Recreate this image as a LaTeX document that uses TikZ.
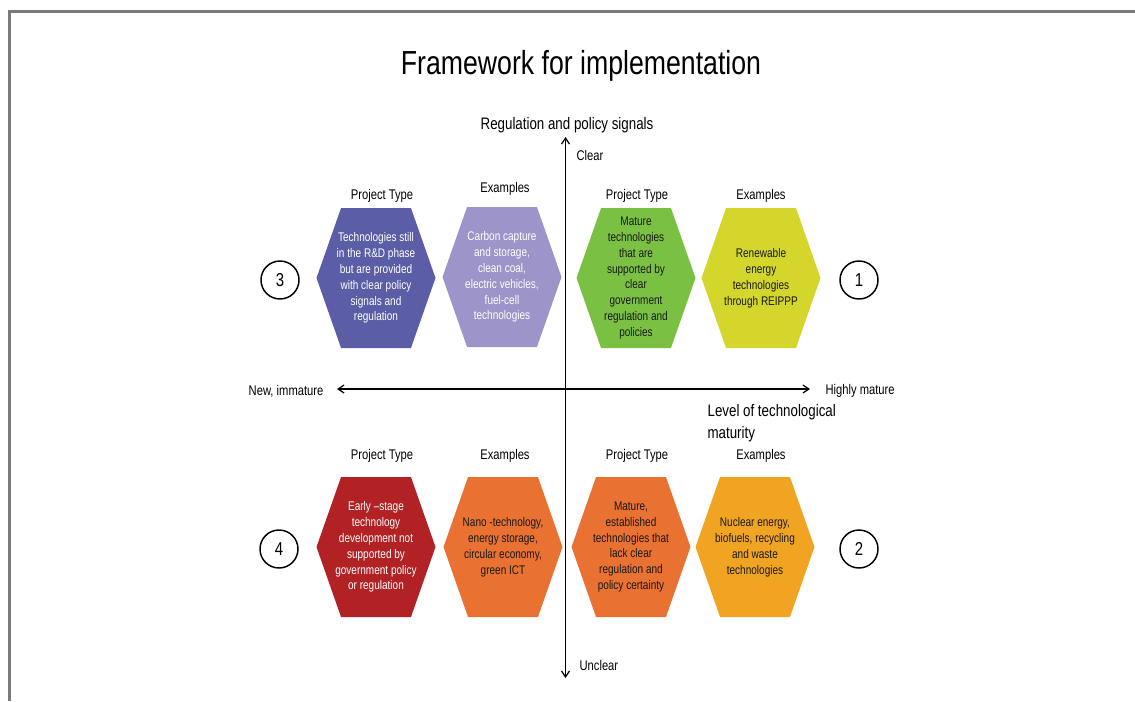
\documentclass[tikz,border=0pt]{standalone}
\usepackage{fontspec}
\setmainfont{Liberation Sans}[FakeStretch=0.8]
\usetikzlibrary{arrows.meta}

\definecolor{framegray}{HTML}{7A7A7A}
\definecolor{purpledark}{HTML}{5B5EA6}
\definecolor{purplelight}{HTML}{9D95CA}
\definecolor{greenmid}{HTML}{7AC143}
\definecolor{yellowgreen}{HTML}{D4D62B}
\definecolor{reddark}{HTML}{B22225}
\definecolor{orangemid}{HTML}{E97131}
\definecolor{goldmid}{HTML}{F0A422}

\newcommand{\hexfont}{\fontsize{9.4}{11.9}\selectfont}
\newcommand{\headfont}{\fontsize{10.5}{12.6}\selectfont}
\newcommand{\axisfont}{\fontsize{12.5}{16.5}\selectfont}

\tikzset{
    hexbox/.style={inner sep=0pt, minimum width=89.25pt, minimum height=105pt,
        align=center, font=\hexfont, text=black!90,
        path picture={\fill[#1] (path picture bounding box.west)
            -- ([xshift=18.4pt]path picture bounding box.north west)
            -- ([xshift=-18.4pt]path picture bounding box.north east)
            -- (path picture bounding box.east)
            -- ([xshift=-18.4pt]path picture bounding box.south east)
            -- ([xshift=18.4pt]path picture bounding box.south west) -- cycle;}},
    headlabel/.style={font=\headfont, inner sep=1pt},
    numcircle/.style={draw, circle, line width=1.1pt, minimum size=28.5pt,
        inner sep=0pt, font=\fontsize{14}{16}\selectfont},
    axisline/.style={line width=0.9pt, {Straight Barb[length=4.5pt,width=6pt]}-{Straight Barb[length=4.5pt,width=6pt]}}
}

\begin{document}
\begin{tikzpicture}[x=0.75pt,y=-0.75pt]
    \useasboundingbox (0,0) rectangle (1135,701);
    \draw[line width=2.25pt, framegray] (9.5,701) -- (9.5,11.5) -- (1135,11.5);

    \node[font=\fontsize{25}{30}\selectfont] (title) at (581,66) {Framework for implementation};

    \coordinate (top) at (565.5,137);
    \coordinate (bottom) at (565.5,678);
    \coordinate (left) at (337,389);
    \coordinate (right) at (810,389);
    \draw[axisline] (bottom) -- (top);
    \draw[axisline] (left) -- (right);

    \node[font=\axisfont] (regulation) at (567,125) {Regulation and policy signals};
    \node[headlabel, anchor=west] (clear) at (575,155) {Clear};
    \node[headlabel, anchor=west] (unclear) at (578,665) {Unclear};
    \node[headlabel, anchor=east] (newimm) at (325,391) {New, immature};
    \node[headlabel, anchor=west] (highmat) at (824,391) {Highly mature};
    \node[font=\axisfont, anchor=west, align=left, inner sep=1pt] (maturity) at (706,423) {Level of technological\\maturity};

    \node[headlabel] (q3typehead) at (382,196) {Project Type};
    \node[headlabel] (q3exhead) at (505,189) {Examples};
    \node[headlabel] (q1typehead) at (637,196) {Project Type};
    \node[headlabel] (q1exhead) at (761,196) {Examples};
    \node[headlabel] (q4typehead) at (382,456) {Project Type};
    \node[headlabel] (q4exhead) at (505,456) {Examples};
    \node[headlabel] (q2typehead) at (637,456) {Project Type};
    \node[headlabel] (q2exhead) at (761,456) {Examples};

    \node[hexbox=purpledark, text=white] (q3type) at (376,278)
        {Technologies still\\in the R\&D phase\\but are provided\\with clear policy\\signals and\\regulation};
    \node[hexbox=purplelight, text=white] (q3ex) at (502,277)
        {Carbon capture\\and storage,\\clean coal,\\electric vehicles,\\fuel-cell\\technologies};
    \node[hexbox=greenmid] (q1type) at (636,278)
        {Mature\\technologies\\that are\\supported by\\clear\\government\\regulation and\\policies};
    \node[hexbox=yellowgreen] (q1ex) at (761,278)
        {Renewable\\energy\\technologies\\through REIPPP};
    \node[hexbox=reddark, text=white] (q4type) at (376,547)
        {Early –stage\\technology\\development not\\supported by\\government policy\\or regulation};
    \node[hexbox=orangemid] (q4ex) at (503,547)
        {Nano -technology,\\energy storage,\\circular economy,\\green ICT};
    \node[hexbox=orangemid] (q2type) at (631,547)
        {Mature,\\established\\technologies that\\lack clear\\regulation and\\policy certainty};
    \node[hexbox=goldmid] (q2ex) at (755,547)
        {Nuclear energy,\\biofuels, recycling\\and waste\\technologies};

    \node[numcircle] (num3) at (280,280) {3};
    \node[numcircle] (num1) at (859,280) {1};
    \node[numcircle] (num4) at (279,549) {4};
    \node[numcircle] (num2) at (859,549) {2};
\end{tikzpicture}
\end{document}
